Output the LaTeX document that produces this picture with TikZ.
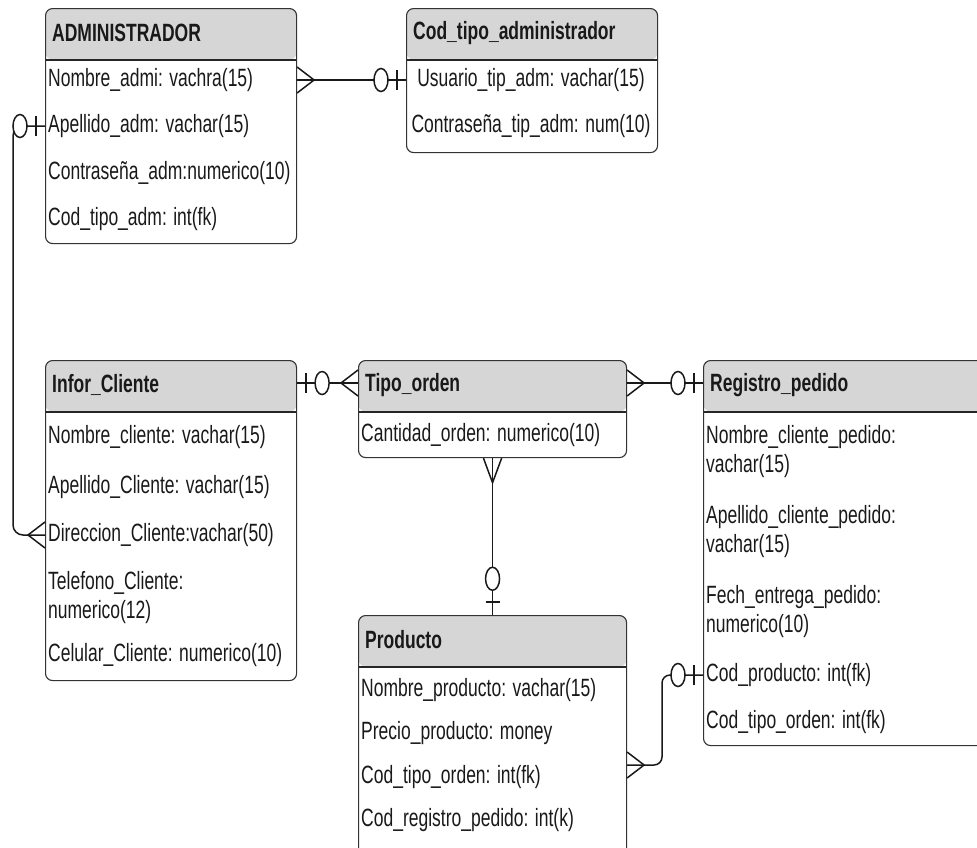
\documentclass[tikz,border=0pt]{standalone}
\usepackage{fontspec}
\setmainfont{Liberation Sans}[FakeStretch=0.70]
\usetikzlibrary{shapes.geometric}

\begin{document}
\begin{tikzpicture}[x=1pt,y=1pt]
\tikzstyle entity=[draw=black!80, line width=1.1pt, rounded corners=7, anchor=north west, inner sep=0pt, path picture={\fill[black!16] (path picture bounding box.north west) rectangle ([yshift=-51]path picture bounding box.north east); \draw[line width=2pt, black!85] ([yshift=-51]path picture bounding box.north west) -- ([yshift=-51]path picture bounding box.north east);}];
\tikzstyle title=[anchor=west, inner sep=0pt, text=black!90, font=\fontsize{25}{29}\selectfont\bfseries];
\tikzstyle attr=[anchor=west, inner sep=0pt, text=black!90, align=left, font=\fontsize{25}{29}\selectfont];
\tikzstyle rel=[line width=1.5pt, black!90];
\tikzstyle oval=[draw, rel, fill=white, ellipse, inner sep=0pt, minimum width=14, minimum height=23];
\tikzstyle vert=[xscale=1.45, yscale=0.7];
\tikzset{
  many/.pic={\draw[rel] (0,13) -- (17,0) -- (0,-13);},
  zeroone/.pic={\draw[rel] (9,10) -- (9,-10); \node[oval] (-o) at (25,0) {};}
}
\useasboundingbox (0,0) rectangle (977,-847);
\clip (0,0) rectangle (977,-847);

\node[entity, minimum width=251, minimum height=235] (admin) at (45,-8) {};
\node[entity, minimum width=251, minimum height=144] (codtipo) at (406,-8) {};
\node[entity, minimum width=251, minimum height=320] (infor) at (45,-360) {};
\node[entity, minimum width=268, minimum height=97] (tipo) at (358,-360) {};
\node[entity, minimum width=290, minimum height=385] (reg) at (703,-360) {};
\node[entity, minimum width=268, minimum height=240] (prod) at (358,-615) {};

\node[title] (admin-t) at (52,-33) {ADMINISTRADOR};
\node[attr] (admin-1) at (48,-80) {Nombre\_admi: vachra(15)};
\node[attr] (admin-2) at (48,-126) {Apellido\_adm: vachar(15)};
\node[attr] (admin-3) at (48,-173) {Contraseña\_adm:numerico(10)};
\node[attr] (admin-4) at (48,-219) {Cod\_tipo\_adm: int(fk)};

\node[title] (codtipo-t) at (413,-33) {Cod\_tipo\_administrador};
\node[attr, anchor=center] (codtipo-1) at (531,-80) {Usuario\_tip\_adm: vachar(15)};
\node[attr, anchor=center] (codtipo-2) at (531,-126) {Contraseña\_tip\_adm: num(10)};

\node[title] (infor-t) at (52,-385) {Infor\_Cliente};
\node[attr] (infor-1) at (48,-437) {Nombre\_cliente: vachar(15)};
\node[attr] (infor-2) at (48,-487) {Apellido\_Cliente: vachar(15)};
\node[attr] (infor-3) at (48,-535) {Direccion\_Cliente:vachar(50)};
\node[attr] (infor-4) at (48,-598) {Telefono\_Cliente:\\numerico(12)};
\node[attr] (infor-5) at (48,-655) {Celular\_Cliente: numerico(10)};

\node[title] (tipo-t) at (365,-385) {Tipo\_orden};
\node[attr] (tipo-1) at (361,-435) {Cantidad\_orden: numerico(10)};

\node[title] (reg-t) at (710,-385) {Registro\_pedido};
\node[attr] (reg-1) at (706,-452) {Nombre\_cliente\_pedido:\\vachar(15)};
\node[attr] (reg-2) at (706,-532) {Apellido\_cliente\_pedido:\\vachar(15)};
\node[attr] (reg-3) at (706,-612) {Fech\_entrega\_pedido:\\numerico(10)};
\node[attr] (reg-4) at (706,-675) {Cod\_producto: int(fk)};
\node[attr] (reg-5) at (706,-722) {Cod\_tipo\_orden: int(fk)};

\node[title] (prod-t) at (365,-640) {Producto};
\node[attr] (prod-1) at (361,-690) {Nombre\_producto: vachar(15)};
\node[attr] (prod-2) at (361,-733) {Precio\_producto: money};
\node[attr] (prod-3) at (361,-777) {Cod\_tipo\_orden: int(fk)};
\node[attr] (prod-4) at (361,-820) {Cod\_registro\_pedido: int(k)};

\coordinate (infor-r) at ([yshift=-23]infor.north east);
\coordinate (tipo-l) at ([yshift=-23]tipo.north west);
\coordinate (tipo-r) at ([yshift=-23]tipo.north east);
\coordinate (reg-l) at ([yshift=-23]reg.north west);
\coordinate (prod-r) at ([yshift=-150]prod.north east);

\draw[rel] (admin-1 -| admin.east) -- (admin-1 -| codtipo.west);
\pic at (admin-1 -| admin.east) {many};
\pic[rotate=180] (m1) at (admin-1 -| codtipo.west) {zeroone};

\draw[rel, rounded corners=10] (admin-2 -| admin.west) -- (13,-126) |- (infor-3 -| infor.west);
\pic[rotate=180] (m2) at (admin-2 -| admin.west) {zeroone};
\pic[rotate=180] at (infor-3 -| infor.west) {many};

\draw[rel] (infor-r) -- (tipo-l);
\pic (m3) at (infor-r) {zeroone};
\pic[rotate=180] at (tipo-l) {many};

\draw[rel] (tipo-r) -- (reg-l);
\pic at (tipo-r) {many};
\pic[rotate=180] (m4) at (reg-l) {zeroone};

\draw[rel] (tipo.south) -- (prod.north);
\pic[rotate=-90, vert] at (tipo.south) {many};
\pic[rotate=90, vert] (m5) at (prod.north) {zeroone};

\draw[rel, rounded corners=8] (prod-r) -- (662,-765) |- (reg-4 -| reg.west);
\pic at (prod-r) {many};
\pic[rotate=180] (m6) at (reg-4 -| reg.west) {zeroone};
\end{tikzpicture}
\end{document}
